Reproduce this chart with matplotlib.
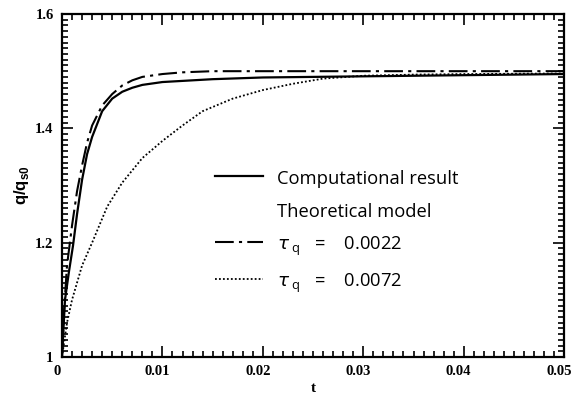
import numpy as np
import matplotlib
matplotlib.use("Agg")
import matplotlib.pyplot as plt
import matplotlib.transforms as mtransforms
from matplotlib.lines import Line2D
from matplotlib.ticker import MultipleLocator, FormatStrFormatter

# computational result (solid)
t_comp = [0, 0.0003, 0.0007, 0.0011, 0.0015, 0.002, 0.0025, 0.003, 0.004, 0.005,
          0.006, 0.007, 0.008, 0.01, 0.015, 0.02, 0.03, 0.04, 0.05]
q_comp = [1.0, 1.10, 1.15, 1.195, 1.25, 1.31, 1.355, 1.385, 1.43, 1.452,
          1.464, 1.471, 1.476, 1.481, 1.486, 1.489, 1.491, 1.493, 1.495]

# theoretical model, tau_q = 0.0022 (dash-dot)
t_022 = [0, 0.0002, 0.0005, 0.001, 0.0015, 0.002, 0.0025, 0.003, 0.004, 0.005,
         0.006, 0.007, 0.008, 0.01, 0.012, 0.015, 0.02, 0.03, 0.04, 0.05]
q_022 = [1.0, 1.08, 1.16, 1.23, 1.29, 1.335, 1.375, 1.405, 1.44, 1.46,
         1.475, 1.484, 1.49, 1.495, 1.498, 1.5, 1.5, 1.5, 1.5, 1.5]

# theoretical model, tau_q = 0.0072 (dotted)
t_072 = [0, 0.0005, 0.001, 0.002, 0.003, 0.0045, 0.006, 0.008, 0.01, 0.012,
         0.014, 0.017, 0.02, 0.023, 0.026, 0.03, 0.035, 0.04, 0.05]
q_072 = [1.0, 1.06, 1.10, 1.16, 1.20, 1.263, 1.305, 1.348, 1.378, 1.405,
         1.43, 1.452, 1.467, 1.478, 1.487, 1.492, 1.494, 1.495, 1.496]

labels = ["Computational result", "Theoretical model",
          r"$\tau_{\;\mathregular{q}}$   =    0.0022", r"$\tau_{\;\mathregular{q}}$   =    0.0072"]

fig = plt.figure(figsize=(5.75, 3.96), dpi=100)
ax = fig.add_axes([0.1078, 0.0985, 0.8734, 0.8661])

l1, = ax.plot(t_comp, q_comp, color="black", lw=1.6, ls="-")
l2, = ax.plot(t_022, q_022, color="black", lw=1.5, ls=(0, (9, 2.5, 1.5, 2.5)))
l3, = ax.plot(t_072, q_072, color="black", lw=1.3, ls=(0, (1, 1.2)))
blank = Line2D([], [], color="none")

ax.set_xlim(0, 0.05)
ax.set_ylim(1.0, 1.6)
ax.xaxis.set_major_locator(MultipleLocator(0.01))
ax.xaxis.set_minor_locator(MultipleLocator(0.001))
ax.yaxis.set_major_locator(MultipleLocator(0.2))
ax.yaxis.set_minor_locator(MultipleLocator(0.01))
ax.xaxis.set_major_formatter(FormatStrFormatter("%g"))
ax.yaxis.set_major_formatter(FormatStrFormatter("%g"))
ax.tick_params(which="both", direction="in", top=True, right=True, width=1.2)
ax.tick_params(which="major", length=8, pad=6)
ax.tick_params(which="minor", length=4)
for s in ax.spines.values():
    s.set_linewidth(1.6)

tickfont = matplotlib.font_manager.FontProperties(family="Liberation Serif", weight="bold", size=10.5)
shift = mtransforms.ScaledTranslation(-5 / 100, 0, fig.dpi_scale_trans)
for lab in ax.get_xticklabels():
    lab.set_fontproperties(tickfont)
    lab.set_transform(lab.get_transform() + shift)
for lab in ax.get_yticklabels():
    lab.set_fontproperties(tickfont)

ax.set_xlabel("t", fontdict={"family": "Liberation Serif", "weight": "bold", "size": 11}, labelpad=3)
ax.set_ylabel(r"q/q$_{\mathregular{s0}}$", fontdict={"family": "Liberation Sans", "weight": "bold", "size": 12}, labelpad=3)

leg = ax.legend([l1, blank, l2, l3], labels, loc="upper left",
                bbox_to_anchor=(0.29, 0.572), frameon=False,
                prop={"family": "Open Sans", "size": 13.2},
                handlelength=2.62, handletextpad=0.77, handleheight=1.25,
                labelspacing=0.72, borderaxespad=0)

fig.savefig("out.png", dpi=100)
